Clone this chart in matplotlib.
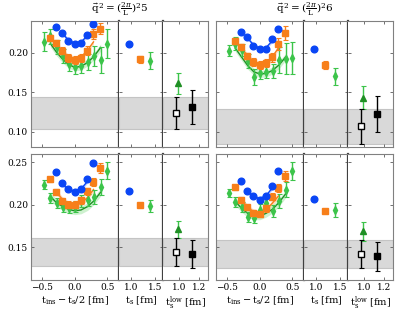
import numpy as np
import matplotlib
matplotlib.use("Agg")
import matplotlib.pyplot as plt

plt.rcParams['font.family'] = 'DejaVu Serif'
plt.rcParams['mathtext.fontset'] = 'dejavuserif'
plt.rcParams['font.size'] = 6.5
plt.rcParams['xtick.direction'] = 'in'
plt.rcParams['ytick.direction'] = 'in'

# x positions (t_ins - t_s/2) of the three source-sink separations
x_blue = [-0.29, -0.19, -0.095, 0.0, 0.097, 0.19, 0.29]
x_orange = [-0.37, -0.28, -0.185, -0.095, 0.0, 0.095, 0.19, 0.29, 0.385]
x_green = [-0.465, -0.37, -0.275, -0.18, -0.085, 0.005, 0.1, 0.2, 0.3, 0.4, 0.495]
ts_vals = [0.96, 1.18, 1.40]
x_open, x_tri, x_black = 0.97, 0.99, 1.13

titles = [r'$\vec{\mathrm{q}}^{\,2}=(\frac{2\pi}{\mathrm{L}})^2 5$',
          r'$\vec{\mathrm{q}}^{\,2}=(\frac{2\pi}{\mathrm{L}})^2 6$']

# top-left
blue_tl = [0.2329, 0.2259, 0.2158, 0.2114, 0.2127, 0.2228, 0.2367]
orange_tl = [0.219, 0.2125, 0.203, 0.1935, 0.191, 0.194, 0.203, 0.224, 0.231]
orange_tl_err = [0.004, 0.004, 0.004, 0.005, 0.005, 0.005, 0.006, 0.006, 0.007]
green_tl = [0.214, 0.221, 0.208, 0.196, 0.186, 0.182, 0.184, 0.189, 0.196, 0.191, 0.212]
green_tl_err = [0.012, 0.010, 0.009, 0.009, 0.009, 0.009, 0.009, 0.010, 0.013, 0.016, 0.018]
fit_blue_tl = [0.2250, 0.2165, 0.2125, 0.2135, 0.2215]
fit_orange_tl = [0.2120, 0.2025, 0.1955, 0.1920, 0.1945, 0.2025, 0.2140]
fit_green_tl = [0.212, 0.201, 0.192, 0.185, 0.182, 0.183, 0.188, 0.196, 0.207]
ts_tl = [0.2120, 0.1923, 0.1902]
ts_tl_err = [0.001, 0.0045, 0.0107]
low_tl = [0.124, 0.1616, 0.132]
low_tl_err = [0.0205, 0.0137, 0.0215]

# top-right
blue_tr = [0.2266, 0.2206, 0.2085, 0.2051, 0.2051, 0.2173, 0.2300]
orange_tr = [0.2156, 0.208, 0.1966, 0.1886, 0.1844, 0.187, 0.1946, 0.2114, 0.2257]
orange_tr_err = [0.004, 0.004, 0.004, 0.005, 0.005, 0.005, 0.006, 0.007, 0.009]
green_tr = [0.2031, 0.212, 0.204, 0.190, 0.170, 0.175, 0.176, 0.1775, 0.191, 0.193, 0.1935]
green_tr_err = [0.007, 0.008, 0.008, 0.009, 0.010, 0.008, 0.008, 0.009, 0.016, 0.020, 0.020]
fit_blue_tr = [0.2195, 0.2105, 0.206, 0.2065, 0.215]
fit_orange_tr = [0.207, 0.1965, 0.189, 0.1855, 0.187, 0.1945, 0.2065]
fit_green_tr = [0.206, 0.195, 0.184, 0.176, 0.1735, 0.174, 0.178, 0.185, 0.195]
ts_tr = [0.2051, 0.185, 0.1705]
ts_tr_err = [0.001, 0.0047, 0.011]
low_tr = [0.1073, 0.1436, 0.1227]
low_tr_err = [0.0223, 0.015, 0.0227]

# bottom-left
blue_bl = [0.2388, 0.226, 0.219, 0.2148, 0.219, 0.2303, 0.2488]
orange_bl = [0.230, 0.2152, 0.2045, 0.200, 0.200, 0.2055, 0.216, 0.227, 0.2435]
orange_bl_err = [0.003, 0.003, 0.003, 0.004, 0.004, 0.004, 0.004, 0.005, 0.006]
green_bl = [0.2238, 0.2083, 0.2025, 0.198, 0.1959, 0.198, 0.205, 0.206, 0.209, 0.221, 0.2405]
green_bl_err = [0.005, 0.006, 0.006, 0.006, 0.006, 0.006, 0.007, 0.007, 0.008, 0.009, 0.010]
fit_blue_bl = [0.2245, 0.2185, 0.2160, 0.2185, 0.2270]
fit_orange_bl = [0.2155, 0.2065, 0.2015, 0.1995, 0.202, 0.208, 0.218]
fit_green_bl = [0.210, 0.2025, 0.198, 0.1945, 0.193, 0.194, 0.198, 0.205, 0.215]
ts_bl = [0.2162, 0.2000, 0.1985]
ts_bl_err = [0.001, 0.002, 0.0073]
low_bl = [0.1444, 0.1713, 0.1426]
low_bl_err = [0.017, 0.0102, 0.0165]

# bottom-right
blue_br = [0.228, 0.216, 0.2107, 0.206, 0.211, 0.2223, 0.2405]
orange_br = [0.2207, 0.206, 0.197, 0.1905, 0.1893, 0.196, 0.2095, 0.2198, 0.2343]
orange_br_err = [0.003, 0.003, 0.003, 0.004, 0.004, 0.004, 0.004, 0.005, 0.006]
green_br = [0.2142, 0.2038, 0.1971, 0.1856, 0.185, 0.1945, 0.202, 0.193, 0.2043, 0.218, 0.240]
green_br_err = [0.005, 0.006, 0.006, 0.006, 0.006, 0.006, 0.007, 0.007, 0.008, 0.009, 0.011]
fit_blue_br = [0.2165, 0.210, 0.2075, 0.2105, 0.2195]
fit_orange_br = [0.2065, 0.1975, 0.192, 0.190, 0.1935, 0.2015, 0.2105]
fit_green_br = [0.204, 0.196, 0.190, 0.187, 0.187, 0.190, 0.195, 0.203, 0.213]
ts_br = [0.2067, 0.1922, 0.1937]
ts_br_err = [0.001, 0.002, 0.0083]
low_br = [0.142, 0.1689, 0.1394]
low_br_err = [0.016, 0.0111, 0.017]

C_BLUE = '#0a46f5'
C_ORANGE = '#f77f1a'
C_GREEN = '#3cc44a'
C_DGREEN = '#1f8f24'

panels = [
    (0, 0, blue_tl, orange_tl, orange_tl_err, green_tl, green_tl_err,
     fit_blue_tl, fit_orange_tl, fit_green_tl, ts_tl, ts_tl_err, low_tl, low_tl_err),
    (0, 1, blue_tr, orange_tr, orange_tr_err, green_tr, green_tr_err,
     fit_blue_tr, fit_orange_tr, fit_green_tr, ts_tr, ts_tr_err, low_tr, low_tr_err),
    (1, 0, blue_bl, orange_bl, orange_bl_err, green_bl, green_bl_err,
     fit_blue_bl, fit_orange_bl, fit_green_bl, ts_bl, ts_bl_err, low_bl, low_bl_err),
    (1, 1, blue_br, orange_br, orange_br_err, green_br, green_br_err,
     fit_blue_br, fit_orange_br, fit_green_br, ts_br, ts_br_err, low_br, low_br_err),
]

W, H = 398, 318
fig = plt.figure(figsize=(W / 100, H / 100), dpi=100)

col_left = [30.7, 215.7]
col_w = [88.3, 44.2, 44.4]
row_top = [21, 154]
row_h = 126
ylims = [(0.081, 0.2405), (0.1114, 0.260)]
yticks = [[0.10, 0.15, 0.20], [0.15, 0.20, 0.25]]
band_kw = dict(facecolor='#d9d9d9', edgecolor='#c4c4c4', lw=0.8, zorder=0)
err_kw = dict(capsize=1.8, elinewidth=1.0, capthick=0.8, ls='none')

for (r, c, b, o, oe, g, ge, fb, fo, fg, tsv, tse, low, lowe) in panels:
    axes = []
    x0 = col_left[c]
    for k in range(3):
        ax = fig.add_axes([x0 / W, 1 - (row_top[r] + row_h) / H, col_w[k] / W, row_h / H])
        x0 += col_w[k]
        axes.append(ax)
    a1, a2, a3 = axes
    lo, hi = low[0] - lowe[0], low[0] + lowe[0]

    # panel 1: fits and data vs t_ins - t_s/2
    fits = [(x_blue[1:6], fb, C_BLUE, '#8fa9ff', 0.0022),
            (x_orange[1:8], fo, C_ORANGE, '#ffc08a', 0.003),
            (x_green[1:10], fg, C_DGREEN, '#a6e6a8', 0.0045)]
    for fx, fy, lc, bc, hw in fits:
        fy = np.array(fy)
        a1.fill_between(fx, fy - hw, fy + hw, color=bc, alpha=0.55, lw=0, zorder=1)
        a1.plot(fx, fy, color=lc, lw=1.0, zorder=2)
    a1.errorbar(x_green, g, yerr=ge, marker='d', ms=4, color=C_GREEN, mfc=C_GREEN,
                mec=C_GREEN, zorder=3, **err_kw)
    a1.errorbar(x_orange, o, yerr=oe, marker='s', ms=4.2, color=C_ORANGE, zorder=4, **err_kw)
    a1.plot(x_blue, b, 'o', ms=4.8, color=C_BLUE, zorder=5, ls='none')
    a1.set_xlim(-0.67, 0.68)
    a1.set_xticks([-0.5, 0.0, 0.5])

    # panel 2: plateau values vs t_s
    a2.plot(ts_vals[0], tsv[0], 'o', ms=4.8, color=C_BLUE)
    a2.errorbar(ts_vals[1], tsv[1], yerr=tse[1], marker='s', ms=4.2, color=C_ORANGE, **err_kw)
    a2.errorbar(ts_vals[2], tsv[2], yerr=tse[2], marker='d', ms=4, color=C_GREEN, **err_kw)
    a2.set_xlim(0.75, 1.67)
    a2.set_xticks([1.0, 1.5])

    # panel 3: results vs t_s^low
    a3.errorbar(x_open, low[0], yerr=lowe[0], marker='s', ms=4.2, mfc='white', mec='black',
                color='black', zorder=4, **err_kw)
    a3.errorbar(x_tri, low[1], yerr=lowe[1], marker='^', ms=4.2, color=C_DGREEN,
                ecolor=C_GREEN, zorder=3, **err_kw)
    a3.errorbar(x_black, low[2], yerr=lowe[2], marker='s', ms=4.2, color='black', zorder=4, **err_kw)
    a3.set_xlim(0.835, 1.29)
    a3.set_xticks([1.0, 1.2])

    for ax in axes:
        ax.axhspan(lo, hi, **band_kw)
        ax.set_ylim(*ylims[r])
        ax.set_yticks(yticks[r])
        ax.tick_params(top=True, right=True, length=2.5, width=0.6, color='0.35', pad=2)
        for s in ax.spines.values():
            s.set_color('0.5')
            s.set_linewidth(0.8)
        if r == 0:
            ax.set_xticklabels([])
    for ax in (a1, a2):
        ax.spines['right'].set_color('0.25')
        ax.spines['right'].set_linewidth(1.6)
    a2.spines['left'].set_visible(False)
    a3.spines['left'].set_visible(False)
    if c == 0:
        a1.set_yticklabels(['%.2f' % v for v in yticks[r]])
    else:
        a1.set_yticklabels([])
    a2.set_yticklabels([])
    a3.set_yticklabels([])

    if r == 0:
        xc = (col_left[c] + sum(col_w) / 2) / W
        fig.text(xc, 1 - (row_top[0] - 3) / H, titles[c], ha='center', va='bottom', fontsize=7.5)
    else:
        a1.set_xlabel(r'$\mathrm{t_{ins}-t_s/2}$ [fm]', fontsize=7, labelpad=2)
        a2.set_xlabel(r'$\mathrm{t_s}$ [fm]', fontsize=7, labelpad=2)
        a3.set_xlabel(r'$\mathrm{t_s^{low}}$ [fm]', fontsize=7, labelpad=2)

fig.savefig('out.png', dpi=100)
